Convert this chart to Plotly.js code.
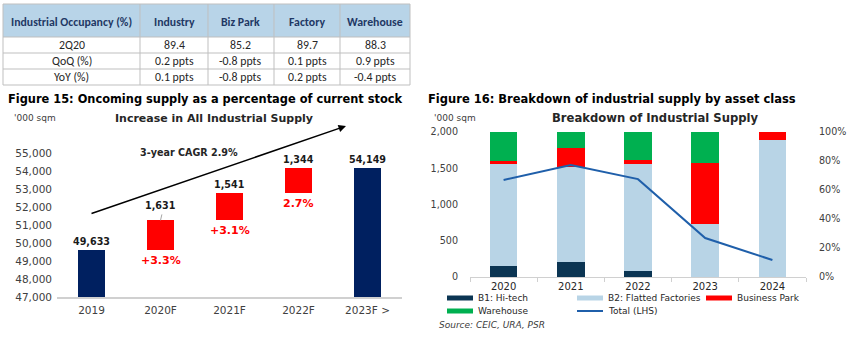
<!DOCTYPE html>
<html><head><meta charset="utf-8">
<script src="https://cdn.plot.ly/plotly-3.0.1.min.js"></script>
<style>html,body{margin:0;padding:0;background:#fff}#chart{width:854px;height:340px}</style>
</head><body><div id="chart"></div>
<script>
// ---------- Table data ----------
const tableHeader = ['Industrial Occupancy (%)','Industry','Biz Park','Factory','Warehouse'];
const tableRowLabels = ['2Q20','QoQ (%)','YoY (%)'];
const colIndustry = ['89.4','0.2 ppts','0.1 ppts'];
const colBizPark = ['85.2','-0.8 ppts','-0.8 ppts'];
const colFactory = ['89.7','0.1 ppts','0.2 ppts'];
const colWarehouse = ['88.3','0.9 ppts','-0.4 ppts'];

// ---------- Figure 15 data ----------
const supplyCategories = ['2019','2020F','2021F','2022F','2023F >'];
const supplyMeasures = ['absolute','relative','relative','relative','total'];
const supplyValues = [49633,1631,1541,1344,0];
const supplyValueLabels = ['49,633','1,631','1,541','1,344','54,149'];
const supplyPctLabels = ['','+3.3%','+3.1%','2.7%',''];
const cagrLabel = '3-year CAGR 2.9%';

// ---------- Figure 16 data ----------
const years = ['2020','2021','2022','2023','2024'];
const hiTechPct = [7.6,10.3,4.0,0,0];
const flattedPct = [70.1,65.7,73.6,36.5,94.5];
const bizParkPct = [2.3,13.0,3.1,42.1,5.5];
const warehousePct = [20.0,11.0,19.3,21.4,0];
const totalSupply = [1338,1545,1350,538,234];
const legendNames = ['B1: Hi-tech','B2: Flatted Factories','Business Park','Warehouse','Total (LHS)'];

// ---------- helpers ----------
const W = 854, H = 340;
const px = x => x / W;
const py = y => 1 - y / H;
const F = 'DejaVu Sans, Verdana, sans-serif';
const TF = 'Carlito, Lato, sans-serif';
const C = {navy:'#002060', red:'#FF0000', b1:'#0B3553', b2:'#B8D4E6', green:'#00B050', line:'#1F5FAA'};

// cumulative for waterfall
let run = 0; const tops = [], bottoms = [];
supplyMeasures.forEach((m, i) => {
  if (m === 'absolute') { bottoms.push(0); run = supplyValues[i]; tops.push(run); }
  else if (m === 'relative') { bottoms.push(run); run += supplyValues[i]; tops.push(run); }
  else { bottoms.push(0); tops.push(run); }
});
const heights = tops.map((t, i) => t - bottoms[i]);
const wfColors = supplyMeasures.map(m => m === 'relative' ? C.red : C.navy);
const catIdx = supplyCategories.map((c, i) => i);

const traces = [];
traces.push({
  type: 'bar', x: catIdx, y: heights, base: bottoms,
  marker: {color: wfColors}, width: 0.4,
  xaxis: 'x', yaxis: 'y', hoverinfo: 'skip', showlegend: false
});

const stackSeries = [
  [hiTechPct, C.b1], [flattedPct, C.b2], [bizParkPct, C.red], [warehousePct, C.green]
];
stackSeries.forEach((s, i) => traces.push({
  type: 'bar', x: years, y: s[0], name: legendNames[i], marker: {color: s[1]},
  xaxis: 'x2', yaxis: 'y2', width: 0.41, showlegend: false
}));
traces.push({
  type: 'scatter', mode: 'lines', x: years, y: totalSupply, name: legendNames[4],
  xaxis: 'x2', yaxis: 'y3', line: {color: C.line, width: 2}, showlegend: false
});

const ann = [];
const shapes = [];
const addText = (text, x, y, size, opts) => ann.push(Object.assign({
  text, x: px(x), y: py(y), xref: 'paper', yref: 'paper', showarrow: false,
  xanchor: 'center', yanchor: 'middle', font: {family: F, size, color: '#000'}
}, opts || {}));

// ---------- table (drawn with shapes + text) ----------
const colEdges = [3, 140, 208, 274, 340, 410];
const rowEdges = [4, 37, 53, 69, 85];
shapes.push({type: 'rect', xref: 'paper', yref: 'paper', x0: px(colEdges[0]), x1: px(colEdges[5]),
  y0: py(rowEdges[1]), y1: py(rowEdges[0]), fillcolor: '#B8D4E8', line: {width: 0}, layer: 'below'});
colEdges.forEach(x => shapes.push({type: 'line', xref: 'paper', yref: 'paper',
  x0: px(x), x1: px(x), y0: py(rowEdges[4]), y1: py(rowEdges[0]), line: {color: '#BFBFBF', width: 1}}));
rowEdges.forEach(y => shapes.push({type: 'line', xref: 'paper', yref: 'paper',
  x0: px(colEdges[0]), x1: px(colEdges[5]), y0: py(y), y1: py(y), line: {color: '#BFBFBF', width: 1}}));
const tableCols = [tableRowLabels, colIndustry, colBizPark, colFactory, colWarehouse];
tableHeader.forEach((h, c) => {
  const cx = (colEdges[c] + colEdges[c + 1]) / 2;
  addText('<b>' + h + '</b>', cx, (rowEdges[0] + rowEdges[1]) / 2 + 1, 11.8,
    {font: {family: TF, size: 11.8, color: '#1F3864'}});
  tableCols[c].forEach((v, r) => addText(v, cx, (rowEdges[r + 1] + rowEdges[r + 2]) / 2, 11.8,
    {font: {family: TF, size: 11.8, color: '#262626'}}));
});

// ---------- headings ----------
addText('<b>Figure 15: Oncoming supply as a percentage of current stock</b>', 6, 99, 11.4, {xanchor: 'left'});
addText('<b>Figure 16: Breakdown of industrial supply by asset class</b>', 426, 99, 11.5, {xanchor: 'left'});
addText("'000 sqm", 12, 118, 9, {xanchor: 'left', font: {family: F, size: 9, color: '#404040'}});
addText("'000 sqm", 432, 118, 9, {xanchor: 'left', font: {family: F, size: 9, color: '#404040'}});
addText('<b>Increase in All Industrial Supply</b>', 214, 119, 11, {font: {family: F, size: 11, color: '#262626'}});
addText('<b>Breakdown of Industrial Supply</b>', 655, 118, 11.6, {font: {family: F, size: 11.6, color: '#262626'}});
addText('<b>' + cagrLabel + '</b>', 189, 153, 9.6, {font: {family: F, size: 9.6, color: '#262626'}});
addText('Source: CEIC, URA, PSR', 437, 325, 9, {xanchor: 'left', font: {family: F, size: 9, color: '#404040', style: 'italic'}});

// arrow
ann.push({x: px(346), y: py(126), xref: 'paper', yref: 'paper', ax: -256, ay: 88,
  axref: 'pixel', ayref: 'pixel', showarrow: true, arrowhead: 2, arrowsize: 1,
  arrowwidth: 1.5, arrowcolor: '#000', text: '', standoff: 0});

// value & pct labels for fig 15
catIdx.forEach(i => {
  ann.push({x: i, y: tops[i], xref: 'x', yref: 'y', showarrow: false, yanchor: 'bottom',
    yshift: i === 1 ? 7 : 1, text: '<b>' + supplyValueLabels[i] + '</b>',
    font: {family: F, size: 9.6, color: '#1a1a1a'}});
  if (supplyPctLabels[i]) ann.push({x: i, y: bottoms[i], xref: 'x', yref: 'y', showarrow: false,
    yanchor: 'top', yshift: -2, text: '<b>' + supplyPctLabels[i] + '</b>',
    font: {family: F, size: 11, color: C.red}});
});
// leader line for 2020F label
shapes.push({type: 'line', xref: 'x', yref: 'y', x0: 1, x1: 1.02,
  y0: tops[1], y1: tops[1] + 330, line: {color: '#A6A6A6', width: 1}});

// custom legend for fig 16
const legendItems = [
  {x: 447, y: 298, color: C.b1, type: 'rect', label: legendNames[0]},
  {x: 577, y: 298, color: C.b2, type: 'rect', label: legendNames[1]},
  {x: 706, y: 298, color: C.red, type: 'rect', label: legendNames[2]},
  {x: 447, y: 311, color: C.green, type: 'rect', label: legendNames[3]},
  {x: 577, y: 311, color: C.line, type: 'line', label: legendNames[4]}
];
legendItems.forEach(it => {
  if (it.type === 'rect') shapes.push({type: 'rect', xref: 'paper', yref: 'paper',
    x0: px(it.x), x1: px(it.x + 26), y0: py(it.y + 2.5), y1: py(it.y - 2.5),
    fillcolor: it.color, line: {width: 0}});
  else shapes.push({type: 'line', xref: 'paper', yref: 'paper',
    x0: px(it.x), x1: px(it.x + 26), y0: py(it.y), y1: py(it.y), line: {color: it.color, width: 2}});
  addText(it.label, it.x + 29, it.y, 9, {xanchor: 'left', font: {family: F, size: 9, color: '#262626'}});
});

const tickFont = {family: F, size: 10.5, color: '#404040'};
const layout = {
  width: W, height: H, margin: {l: 0, r: 0, t: 0, b: 0},
  paper_bgcolor: '#fff', plot_bgcolor: 'rgba(0,0,0,0)', showlegend: false,
  barmode: 'stack',
  xaxis: {domain: [px(57), px(402)], anchor: 'y', range: [-0.5, 4.5],
    tickvals: catIdx, ticktext: supplyCategories, showgrid: false, zeroline: false,
    showline: true, linecolor: '#D0D0D0', linewidth: 1.5, ticks: '', tickfont: tickFont,
    ticklabelstandoff: 3, fixedrange: true},
  yaxis: {domain: [py(297), py(137)], anchor: 'x', range: [47000, 55900], dtick: 1000,
    tickformat: ',d', showgrid: false, zeroline: false, showline: false, ticks: '',
    tickfont: tickFont, ticklabelstandoff: 4, fixedrange: true},
  xaxis2: {domain: [px(470), px(806)], anchor: 'y2', type: 'category', showgrid: false,
    showline: true, linecolor: '#D0D0D0', linewidth: 1, ticks: 'outside', tickson: 'boundaries',
    ticklen: 4, tickcolor: '#D0D0D0', tickfont: {family: F, size: 10, color: '#262626'},
    ticklabelstandoff: 0, fixedrange: true},
  yaxis2: {domain: [py(277), py(132)], anchor: 'x2', side: 'right', range: [0, 100], dtick: 20,
    ticksuffix: '%', showgrid: false, zeroline: false, ticks: '',
    tickfont: {family: F, size: 9.6, color: '#404040'}, ticklabelstandoff: 12, fixedrange: true},
  yaxis3: {overlaying: 'y2', anchor: 'x2', side: 'left', range: [0, 2000], dtick: 500,
    tickformat: ',d', showgrid: false, zeroline: false, ticks: '',
    tickfont: {family: F, size: 9.6, color: '#404040'}, ticklabelstandoff: 11, fixedrange: true},
  annotations: ann, shapes: shapes
};
Plotly.newPlot('chart', traces, layout, {displayModeBar: false, staticPlot: true});
</script></body></html>
